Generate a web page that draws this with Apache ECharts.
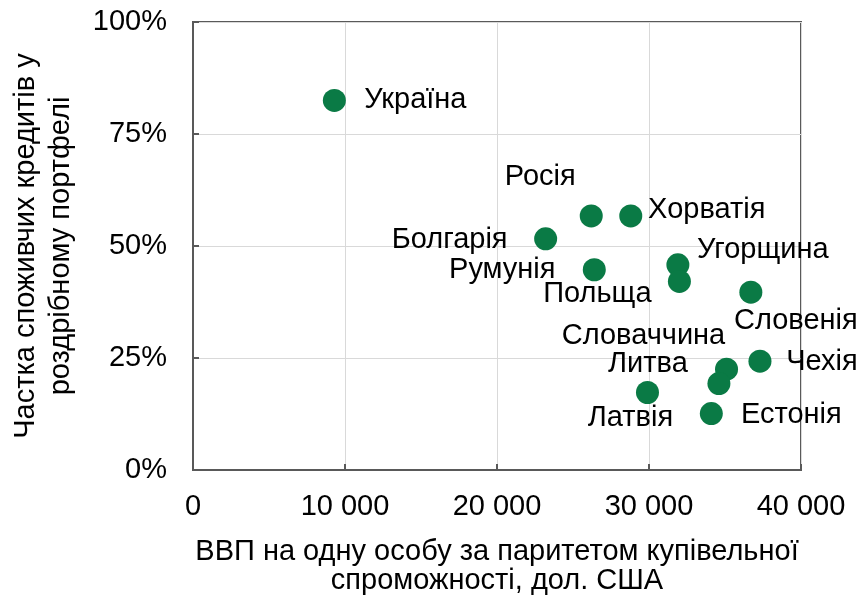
<!DOCTYPE html>
<html>
<head>
<meta charset="utf-8">
<script src="https://cdn.jsdelivr.net/npm/echarts@6/dist/echarts.min.js"></script>
<style>
  html, body { margin: 0; padding: 0; background: #fff; }
  #chart { width: 861px; height: 600px; }
</style>
</head>
<body>
<div id="chart"></div>
<script>
// країни та значення (ВВП на особу за ПКС, частка споживчих кредитів у %)
const countries = ['Україна', 'Росія', 'Хорватія', 'Болгарія', 'Румунія', 'Угорщина', 'Польща',
  'Словенія', 'Чехія', 'Словаччина', 'Литва', 'Латвія', 'Естонія'];
const gdp = [9300, 26200, 28800, 23200, 26400, 31900, 32000, 36700, 37300, 35100, 34600, 29900, 34100];
const share = [82.5, 56.7, 56.7, 51.6, 44.7, 45.8, 42.1, 39.7, 24.3, 22.5, 19.3, 17.3, 12.6];
const xTicks = [0, 10000, 20000, 30000, 40000];
const yTicks = [0, 25, 50, 75, 100];

// зсув підписів відносно точки (px)
const labelShift = {
  'Україна': [81, 0], 'Росія': [-51, -39], 'Хорватія': [76, -6], 'Болгарія': [-96, 1],
  'Румунія': [-92, 0], 'Угорщина': [85, -15], 'Польща': [-82, 13], 'Словенія': [45, 29],
  'Чехія': [62, 1], 'Словаччина': [-83, -33], 'Литва': [-71, -20], 'Латвія': [-17, 26],
  'Естонія': [80, 1]
};

const FONT = 'Liberation Sans';
const FS = 29;
const AXIS = '#595959';

function fmtThousands(v) {
  return String(v).replace(/\B(?=(\d{3})+(?!\d))/g, ' ');
}

let points = countries.map((name, i) => ({
  name: name,
  value: [gdp[i], share[i]],
  label: { offset: labelShift[name] }
}));

let myChart = echarts.init(document.getElementById('chart'), null, { renderer: 'canvas' });
myChart.setOption({
  animation: false,
  textStyle: { fontFamily: FONT },
  grid: {
    left: 193, right: 60, top: 22, bottom: 127,
    show: true, borderColor: AXIS, borderWidth: 2, backgroundColor: 'transparent'
  },
  xAxis: {
    type: 'value', min: xTicks[0], max: xTicks[xTicks.length - 1], interval: 10000,
    name: 'ВВП на одну особу за паритетом купівельної\nспроможності, дол. США',
    nameLocation: 'middle', nameGap: 67,
    nameTextStyle: { fontSize: FS, color: '#000', fontFamily: FONT, lineHeight: 29 },
    axisLine: { show: true, lineStyle: { color: AXIS, width: 2 } },
    axisTick: { show: true, inside: true, length: 6, lineStyle: { color: AXIS, width: 2 } },
    splitLine: { show: true, lineStyle: { color: '#d9d9d9', width: 1 } },
    axisLabel: { fontSize: FS, color: '#000', margin: 22, formatter: fmtThousands }
  },
  yAxis: {
    type: 'value', min: yTicks[0], max: yTicks[yTicks.length - 1], interval: 25,
    name: 'Частка споживчих кредитів у\nроздрібному портфелі',
    nameLocation: 'middle', nameGap: 115,
    nameTextStyle: { fontSize: FS, color: '#000', fontFamily: FONT, lineHeight: 35 },
    axisLine: { show: true, lineStyle: { color: AXIS, width: 2 } },
    axisTick: { show: true, inside: true, length: 6, lineStyle: { color: AXIS, width: 2 } },
    splitLine: { show: true, lineStyle: { color: '#d9d9d9', width: 1 } },
    axisLabel: { fontSize: FS, color: '#000', margin: 26, formatter: v => v + '%' }
  },
  series: [{
    type: 'scatter',
    symbol: 'circle',
    symbolSize: 23,
    itemStyle: { color: '#0a7a45', opacity: 1 },
    label: {
      show: true,
      position: 'inside',
      formatter: p => p.name,
      color: '#000',
      fontSize: FS,
      fontFamily: FONT,
      textBorderWidth: 0
    },
    emphasis: { disabled: true },
    data: points
  }]
});
</script>
</body>
</html>
